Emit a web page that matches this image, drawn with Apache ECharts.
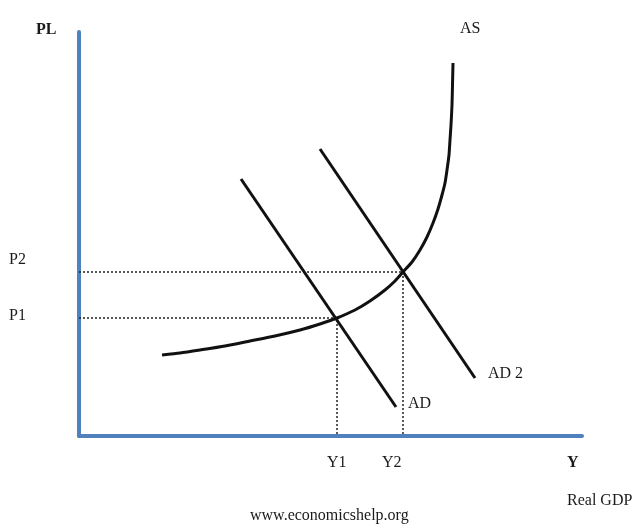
<!DOCTYPE html>
<html>
<head>
<meta charset="utf-8">
<script src="https://cdn.jsdelivr.net/npm/echarts@6/dist/echarts.min.js"></script>
<style>html,body{margin:0;padding:0;background:#fff;}#c{width:636px;height:525px;}</style>
</head>
<body>
<div id="c"></div>
<script>
// Coordinates in chart units (x: output, y: price level)
var adCurve = [[162, 257], [317, 29]];
var ad2Curve = [[241, 287], [396, 58]];
var asCurve = [[83, 81], [101, 83], [121, 86], [146, 90], [171, 95], [196, 100], [221, 106], [241, 112], [258, 118], [276, 126], [291, 135], [306, 146], [316, 155], [324, 164], [333, 174], [341, 186], [348, 199], [354, 213], [359, 227], [363, 241], [366, 253], [368, 266], [370, 281], [371, 296], [372, 311], [373, 331], [373.5, 351], [374, 373]];
var p1Point = [258, 118];
var p2Point = [324, 164];
var tickLabelsY = ['P1', 'P2'];
var tickLabelsX = ['Y1', 'Y2'];

var font = 'Liberation Serif';
var chart = echarts.init(document.getElementById('c'));
var lineStyleBlack = {color: '#111', width: 3};
var dotted = {color: '#222', width: 1.5, type: [2, 2]};
function txt(x, y, s, bold) {
  return {type: 'text', left: x, top: y, style: {text: s, font: (bold ? 'bold ' : '') + '16px "' + font + '"', fill: '#1a1a1a'}};
}

chart.setOption({
  animation: false,
  grid: {left: 79, right: 54, top: 32, bottom: 89},
  xAxis: {type: 'value', min: 0, max: 503, axisLine: {show: true, lineStyle: {color: '#4f81bd', width: 4}}, axisTick: {show: false}, axisLabel: {show: false}, splitLine: {show: false}},
  yAxis: {type: 'value', min: 0, max: 404, axisLine: {show: true, lineStyle: {color: '#4f81bd', width: 4}}, axisTick: {show: false}, axisLabel: {show: false}, splitLine: {show: false}},
  series: [
    {type: 'line', data: [[0, p2Point[1]], p2Point, [p2Point[0], 0]], symbol: 'none', lineStyle: dotted, z: 1},
    {type: 'line', data: [[0, p1Point[1]], p1Point, [p1Point[0], 0]], symbol: 'none', lineStyle: dotted, z: 1},
    {type: 'line', data: adCurve, symbol: 'none', lineStyle: lineStyleBlack,
      endLabel: {show: true, formatter: 'AD', fontFamily: font, fontSize: 16, color: '#1a1a1a', offset: [4, -3]}},
    {type: 'line', data: ad2Curve, symbol: 'none', lineStyle: lineStyleBlack,
      endLabel: {show: true, formatter: 'AD 2', fontFamily: font, fontSize: 16, color: '#1a1a1a', offset: [5, -4]}},
    {type: 'line', data: asCurve, symbol: 'none', smooth: 0.2, lineStyle: lineStyleBlack}
  ],
  graphic: [
    txt(36, 22, 'PL', true),
    txt(460, 21, 'AS'),
    txt(9, 252, tickLabelsY[1]),
    txt(9, 308, tickLabelsY[0]),
    txt(327, 455, tickLabelsX[0]),
    txt(382, 455, tickLabelsX[1]),
    txt(567, 455, 'Y', true),
    txt(567, 493, 'Real GDP'),
    txt(250, 508, 'www.economicshelp.org')
  ]
});
</script>
</body>
</html>
